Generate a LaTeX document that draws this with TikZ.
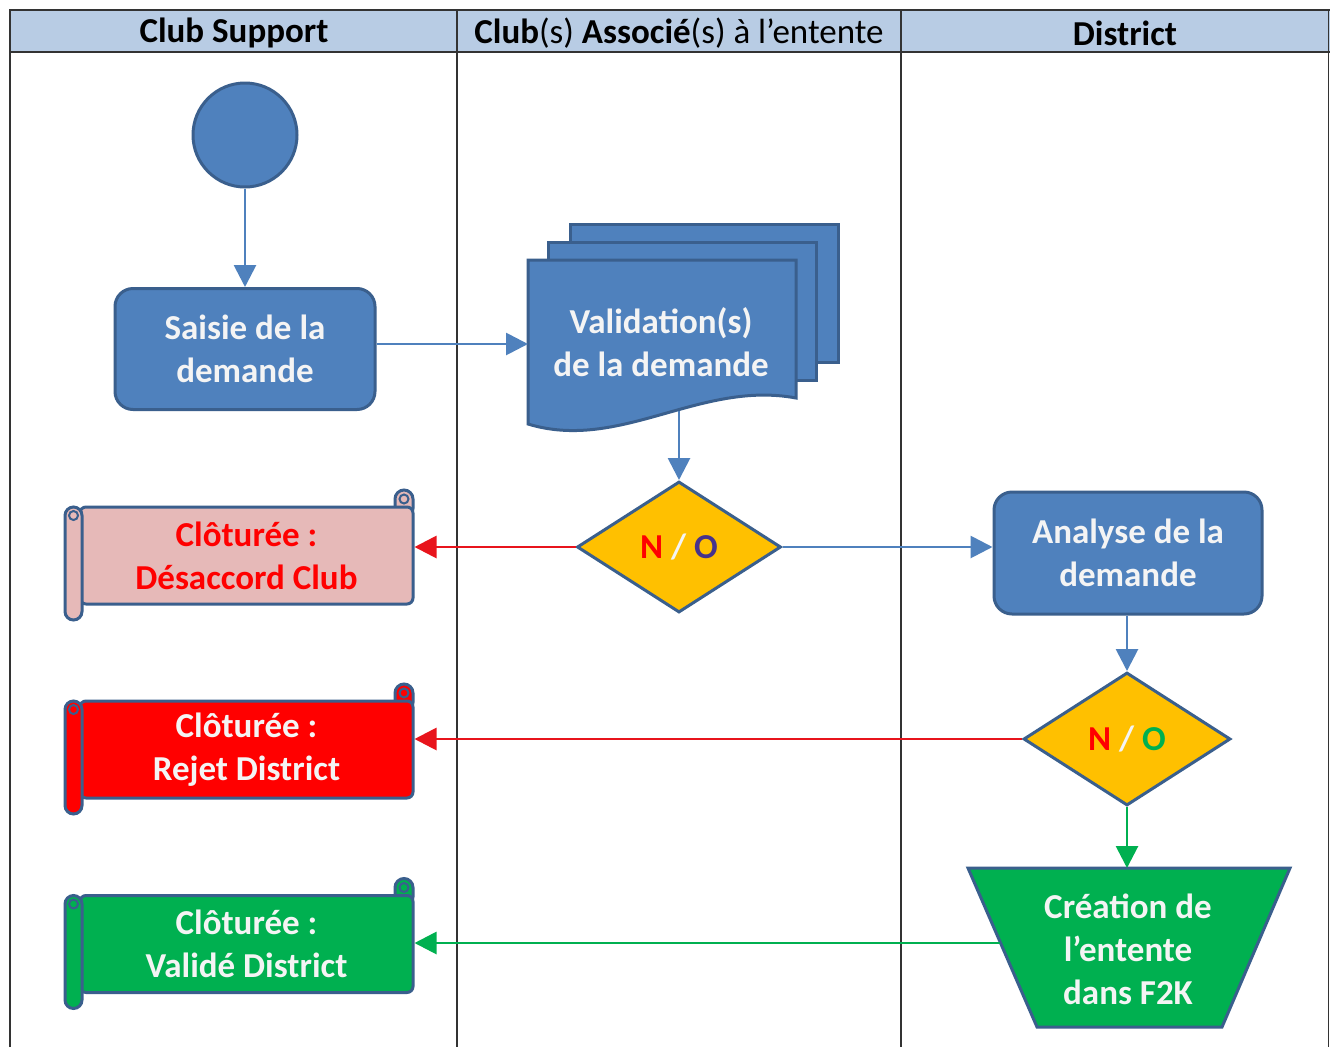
\documentclass[tikz,border=0pt]{standalone}
\usepackage{fontspec}
\setmainfont{Carlito}
\usetikzlibrary{shapes.geometric,arrows.meta,calc}
\definecolor{hdr}{HTML}{B8CCE4}
\definecolor{blu}{HTML}{4F81BD}
\definecolor{bdr}{HTML}{3A5F8D}
\definecolor{amb}{HTML}{FFC000}
\definecolor{grn}{HTML}{00B050}
\definecolor{pnk}{HTML}{E6B9B8}
\definecolor{rd}{HTML}{FF0000}
\definecolor{rdline}{HTML}{E8141C}
\definecolor{purp}{HTML}{46328C}
\definecolor{wht}{HTML}{F4F4F4}
\tikzset{
  big/.style={font=\fontsize{35}{43}\selectfont\bfseries, align=center},
  hd/.style={font=\fontsize{35}{40}\selectfont},
  proc/.style={big, text=wht, fill=blu, draw=bdr, line width=3pt, rounded corners=18pt, inner sep=0pt},
  dec/.style={big, diamond, fill=amb, draw=bdr, line width=3pt, inner sep=0pt},
  arr/.style={line width=2.8pt, -{Triangle[length=22pt,width=22pt]}},
  barrow/.style={arr, draw=blu},
  rarrow/.style={arr, draw=rdline},
  garrow/.style={arr, draw=grn},
  grid/.style={draw=black!80, line width=1.8pt},
}
% scroll: #1 name, #2 cx, #3 cy, #4 fill, #5 text colour, #6 text
\newcommand{\myscroll}[6]{%
  \draw[fill=#4, draw=bdr, line width=3pt, rounded corners=9pt] (#2+148.5,#3-65.5) rectangle (#2+166.5,#3-38);
  \node[big, text=#5, fill=#4, draw=bdr, line width=3pt, rounded corners=6pt, minimum width=333pt, minimum height=97pt, inner sep=0pt] (#1) at (#2,#3) {#6};
  \draw[fill=#4, draw=bdr, line width=3pt, rounded corners=8.5pt] (#2-181.5,#3-48.5) rectangle (#2-164.5,#3+64.5);
  \draw[draw=bdr, line width=2pt] (#2-173,#3-40) circle[radius=4.5pt];
  \draw[draw=bdr, line width=2pt] (#2+157.5,#3-56.5) circle[radius=4.5pt];
}
\begin{document}
\begin{tikzpicture}[x=1pt,y=-1pt]
\useasboundingbox (0,0) rectangle (1330,1047);
\fill[white] (0,0) rectangle (1330,1047);
% table
\fill[hdr] (10,10) rectangle (1330,52);
\draw[grid] (10,1047) -- (10,10) -- (1330,10);
\draw[grid] (10,52) -- (1330,52);
\draw[grid] (457,10) -- (457,1047);
\draw[grid] (901,10) -- (901,1047);
\draw[grid] (1328.5,10) -- (1328.5,1047);
\node[hd] (h1) at (234,33) {\textbf{Club Support}};
\node[hd] (h2) at (679,33) {\textbf{Club}(s) \textbf{Associé}(s) à l’entente};
\node[hd] (h3) at (1125,33) {\textbf{District}};

% start
\node[circle, fill=blu, draw=bdr, line width=3pt, minimum size=104pt, inner sep=0pt] (start) at (245,135) {};
% saisie
\node[proc, minimum width=260pt, minimum height=121pt] (saisie) at (245,349) {Saisie de la\\demande};
% multi-document
\draw[fill=blu, draw=bdr, line width=3pt] (570,224) rectangle (838,362);
\draw[fill=blu, draw=bdr, line width=3pt] (548,242) rectangle (816,380);
\draw[fill=blu, draw=bdr, line width=3pt] (528,260) -- (796,260) -- (796,398)
   .. controls (700,380) and (620,452) .. (528,424) -- cycle;
\node[big, text=wht] (valid) at (661,342) {Validation(s)\\de la demande};
\coordinate (docL) at (528,344);
\coordinate (docB) at (679,411);
% decision 1
\node[dec, minimum width=204pt, minimum height=131pt] (d1) at (679,547) {\textcolor{rd}{N} \textcolor{wht}{/} \textcolor{purp}{O}};
% analyse
\node[proc, minimum width=268pt, minimum height=122pt] (analyse) at (1128,553) {Analyse de la\\demande};
% decision 2
\node[dec, minimum width=207pt, minimum height=133pt] (d2) at (1127,739) {\textcolor{rd}{N} \textcolor{wht}{/} \textcolor{grn}{O}};
% creation (trapezoid)
\draw[fill=grn, draw=bdr, line width=3pt] (968,868) -- (1290,868) -- (1222,1027) -- (1037,1027) -- cycle;
\node[big, text=wht] (crea) at (1128,949) {Création de\\l’entente\\dans F2K};
\coordinate (trapT) at (1127,868);
\coordinate (trapL) at (1000,943);
% scrolls
\myscroll{s1}{246.5}{555.5}{pnk}{rd}{Clôturée :\\Désaccord Club}
\myscroll{s2}{246.5}{749.5}{rd}{wht}{Clôturée :\\Rejet District}
\myscroll{s3}{246.5}{944}{grn}{wht}{Clôturée :\\Validé District}

% connectors
\draw[barrow] (start) -- (saisie);
\draw[barrow] (saisie.east |- docL) -- (docL);
\draw[barrow] (docB) -- (d1.north);
\draw[rarrow] (d1.west) -- (s1.east |- d1.west);
\draw[barrow] (d1.east) -- (analyse.west |- d1.east);
\draw[barrow] (analyse.south -| d2.north) -- (d2.north);
\draw[rarrow] (d2.west) -- (s2.east |- d2.west);
\draw[garrow] (d2.south) -- (trapT);
\draw[garrow] (trapL) -- (s3.east |- trapL);
\end{tikzpicture}
\end{document}
